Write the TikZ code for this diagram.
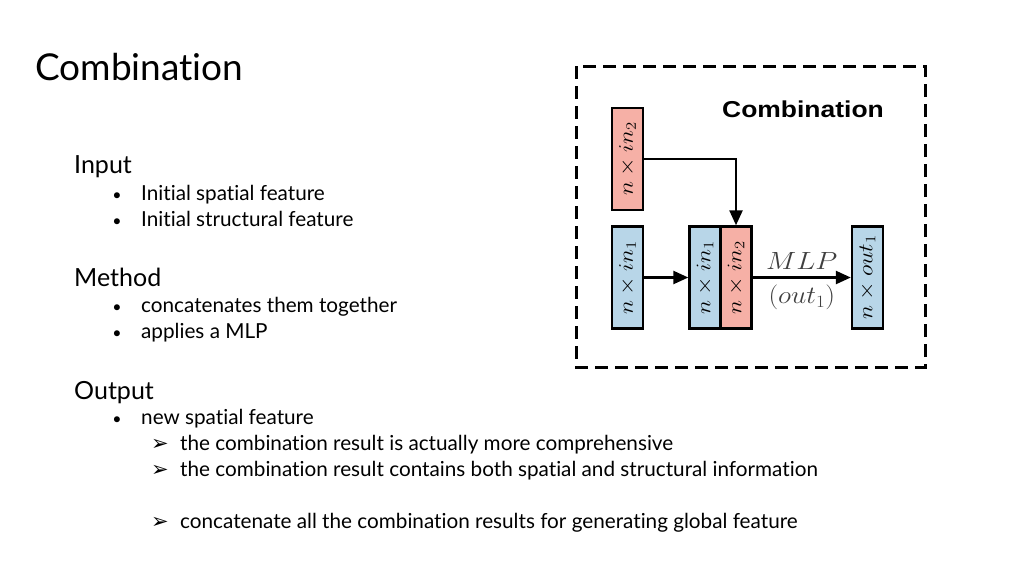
\documentclass[tikz,border=0pt]{standalone}
\usepackage{fontspec}
\setmainfont{Lato}[Ligatures=NoCommon]
\newfontfamily\figfont[FakeStretch=1.15]{Liberation Sans}
\newfontfamily\symfont{DejaVu Sans}
\usepackage{graphicx}
\usetikzlibrary{arrows.meta,positioning,calc}
\definecolor{featblue}{RGB}{184,214,232}
\definecolor{featred}{RGB}{246,176,166}
\newcommand{\vlabel}[1]{\rotatebox{90}{\scalebox{1.15}[1]{$#1$}}}

\begin{document}
\begin{tikzpicture}[
    x=1pt,y=-1pt,
    head/.style={anchor=base west,inner sep=0pt,font=\fontsize{25}{28}\selectfont},
    item/.style={anchor=base west,inner sep=0pt,font=\fontsize{20.7}{24}\selectfont},
    dot/.style={anchor=base,inner sep=0pt,font=\fontsize{16}{20}\selectfont},
    arrowmark/.style={anchor=base west,inner sep=0pt,font=\fontsize{21}{22}\selectfont},
    feat/.style={draw,line width=2.4pt,minimum width=31pt,minimum height=102pt,
                 inner sep=0pt,font=\fontsize{22}{24}\selectfont},
    link/.style={line width=2.4pt,-{Triangle[length=15pt,width=13pt]}},
    mlp/.style={text=black!75,font=\fontsize{23}{24}\selectfont}
  ]
  \useasboundingbox (0,0) rectangle (1024,576);

  % left column
  \node[anchor=base west,inner sep=0pt,font=\fontsize{37}{40}\selectfont] (title) at (35,80) {Combination};

  \node[head] (input) at (74,173) {Input};
  \node[item] (in-a) at (141,200) {Initial spatial feature};
  \node[item] (in-b) at (141,226) {Initial structural feature};
  \node[dot] (d1) at (117,200) {•};
  \node[dot] (d2) at (117,226) {•};

  \node[head] (method) at (74,286) {Method};
  \node[item] (me-a) at (141,312) {concatenates them together};
  \node[item] (me-b) at (141,338) {applies a MLP};
  \node[dot] (d3) at (117,312) {•};
  \node[dot] (d4) at (117,338) {•};

  \node[head] (output) at (74,399) {Output};
  \node[item] (ou-a) at (141,424) {new spatial feature};
  \node[dot] (d5) at (117,424) {•};
  \node[item] (ou-b) at (180,450) {the combination result is actually more comprehensive};
  \node[item] (ou-c) at (180,476) {the combination result contains both spatial and structural information};
  \node[item] (ou-d) at (180,528) {concatenate all the combination results for generating global feature};
  \node[arrowmark] (a1) at (151,450) {\symfont ➢};
  \node[arrowmark] (a2) at (151,476) {\symfont ➢};
  \node[arrowmark] (a3) at (151,528) {\symfont ➢};

  % figure
  \draw[line width=3pt,dash pattern=on 13pt off 7pt] (576,66) rectangle (925,367);
  \node[font=\figfont\bfseries\fontsize{23}{24}\selectfont] (fig) at (803,109) {Combination};

  \node[feat,fill=featred] (in2) at (627.5,159) {\vlabel{n\times in_2}};
  \node[feat,fill=featblue] (in1) at (627.5,277.5) {\vlabel{n\times in_1}};
  \node[feat,fill=featblue] (cb) at (705,277.5) {\vlabel{n\times in_1}};
  \node[feat,fill=featred,right=-2.4pt of cb] (cr) {\vlabel{n\times in_2}};
  \node[feat,fill=featblue] (out) at (867.5,277.5) {\vlabel{n\times out_1}};

  \draw[link] (in1) -- (cb);
  \draw[link] (in2.east) -| (cr.north);
  \draw[link] (cr) -- node[above=3pt,mlp]{\scalebox{1.15}[1]{$MLP$}}
                      node[below=3pt,mlp]{\scalebox{1.1}[1]{$(out_1)$}} (out);
\end{tikzpicture}
\end{document}
